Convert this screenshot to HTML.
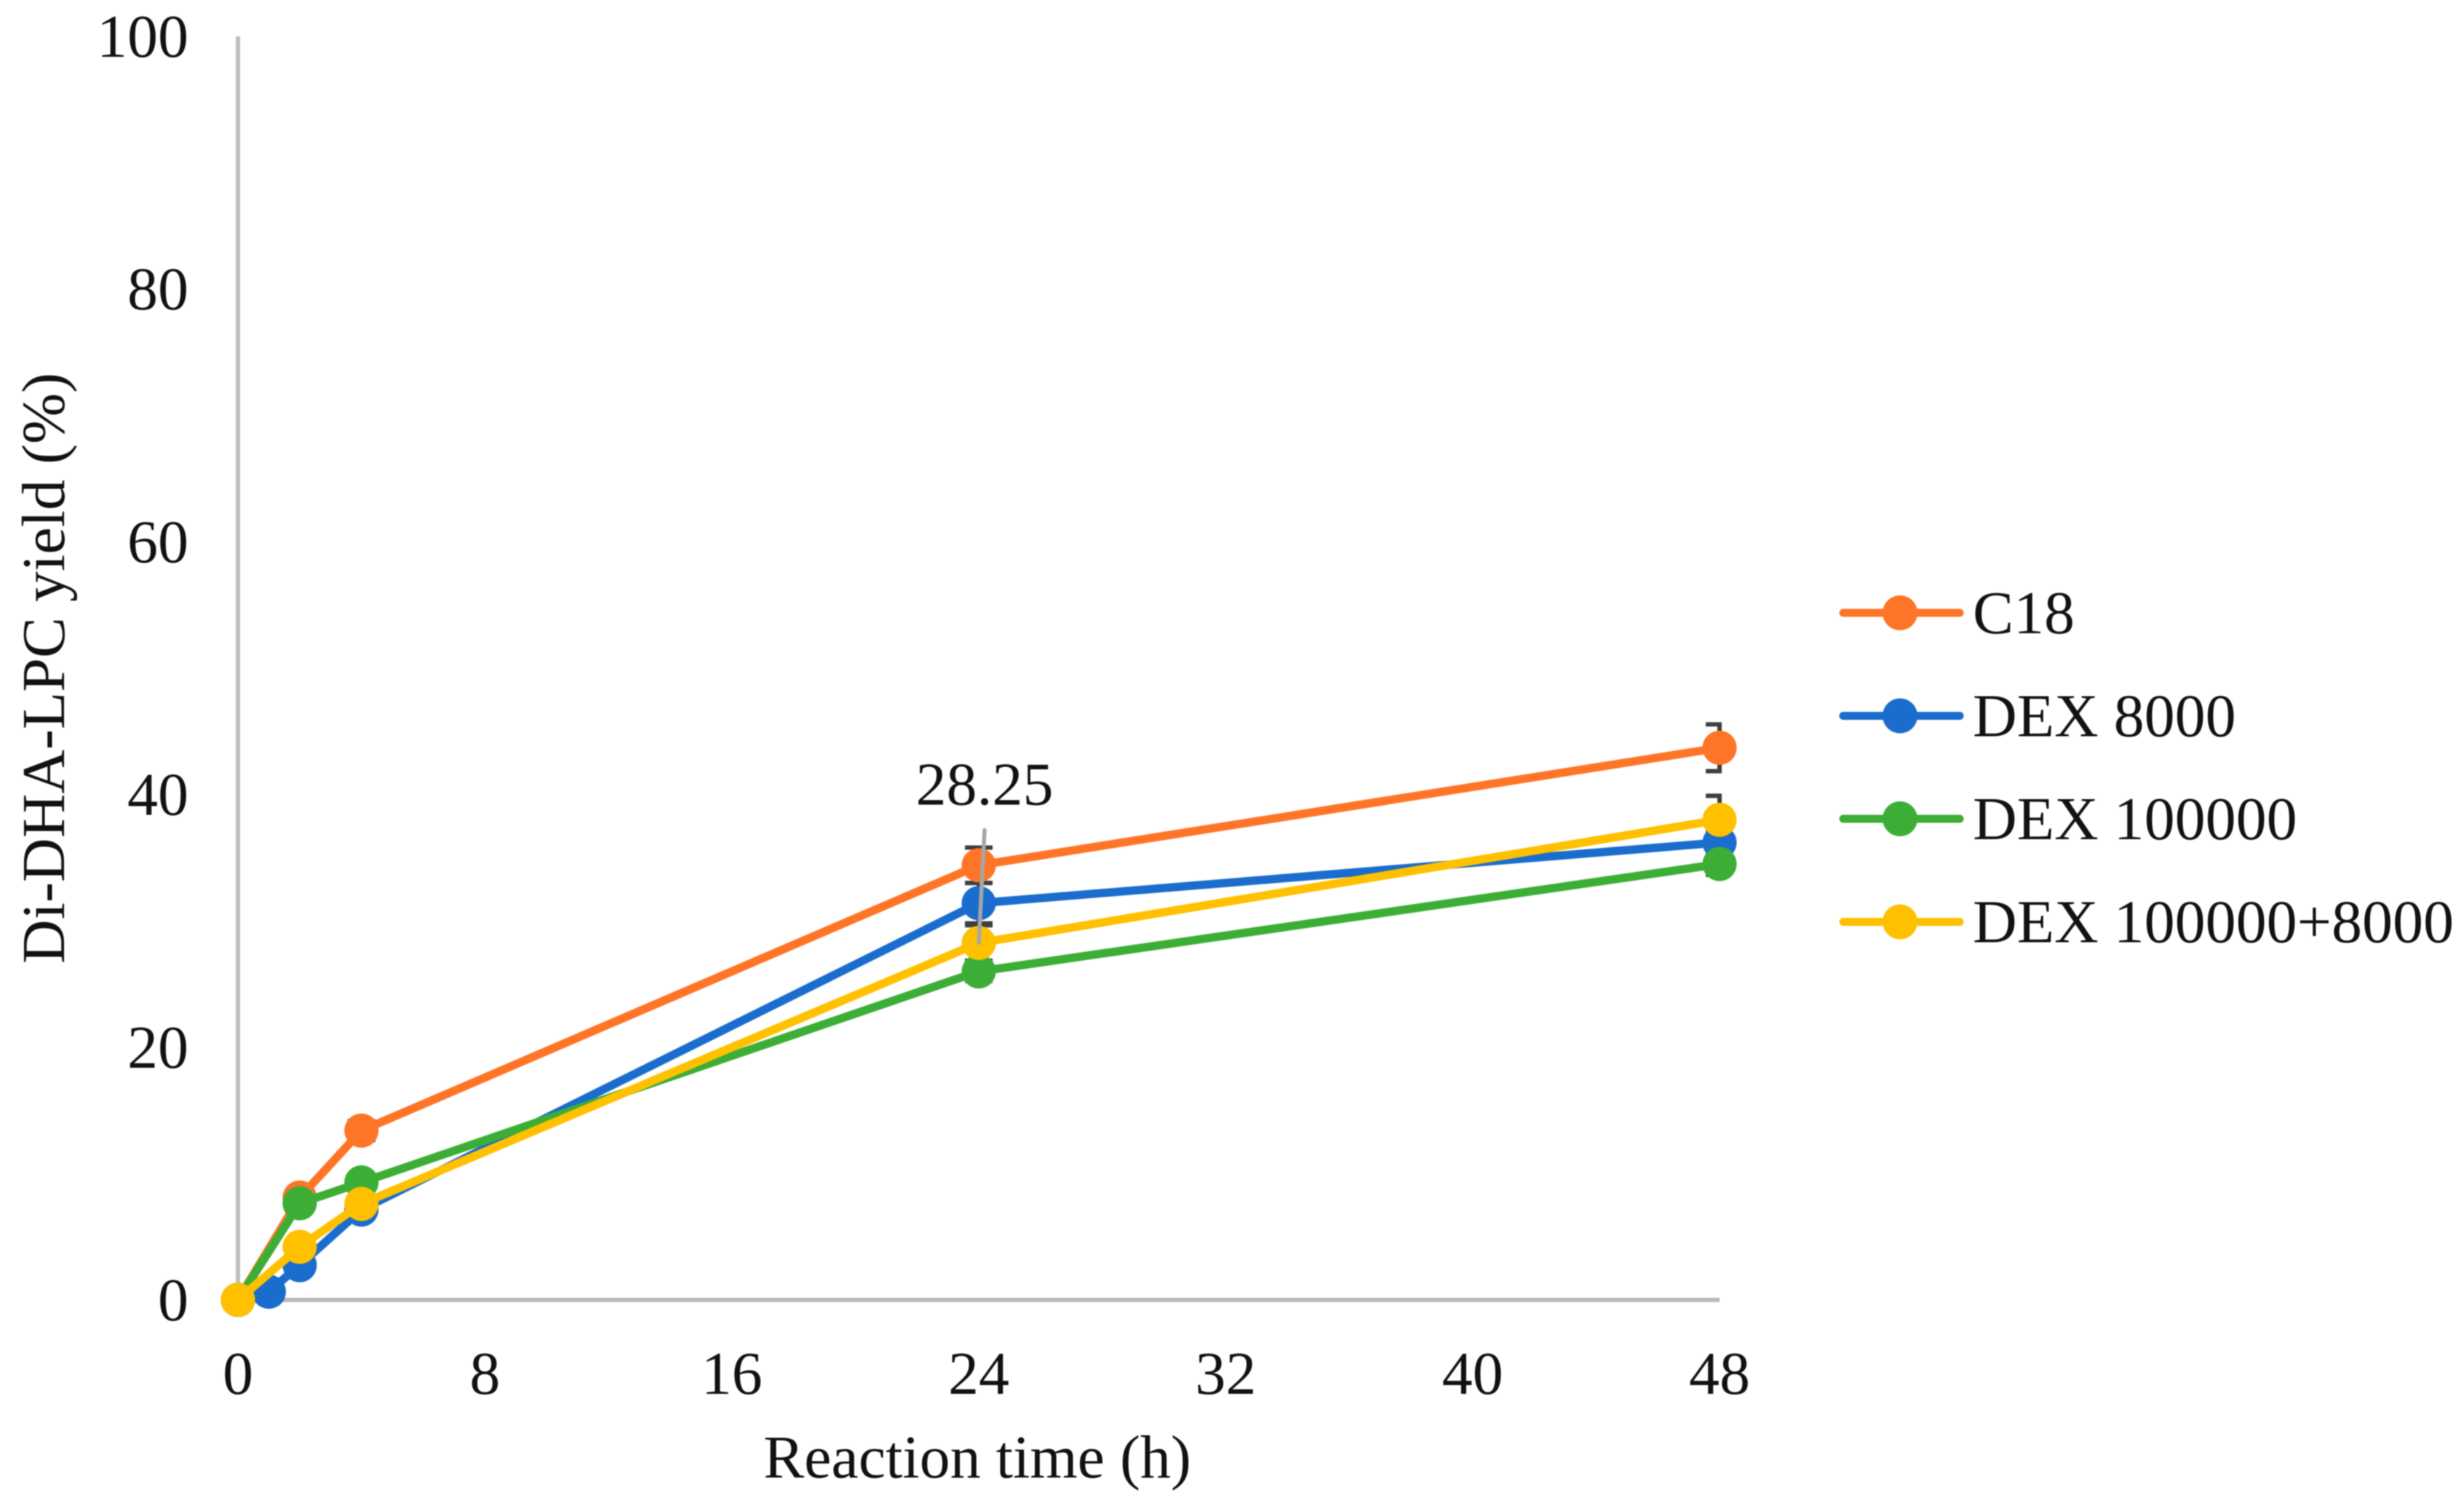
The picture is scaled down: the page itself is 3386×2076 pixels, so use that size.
<!DOCTYPE html>
<html lang="en">
<head>
<meta charset="utf-8">
<title>Di-DHA-LPC yield over reaction time</title>
<style>
  html, body { margin: 0; padding: 0; background: #fff; }
  #chart { display: block; width: 3386px; height: 2076px; filter: blur(0.9px); }
  text { font-family: "Liberation Serif", "Times New Roman", serif; font-size: 84px; fill: #111; }
</style>
</head>
<body>
<svg id="chart" xmlns="http://www.w3.org/2000/svg" width="3386" height="2076" viewBox="0 0 3386 2076">
  <rect width="3386" height="2076" fill="#fff"/>
  <g id="axes"></g>
  <g id="errors"></g>
  <g id="series"></g>
  <g id="annot"></g>
  <g id="legend"></g>
  <text x="1343" y="2030" text-anchor="middle">Reaction time (h)</text>
  <text transform="translate(88 918) rotate(-90)" text-anchor="middle">Di-DHA-LPC yield (%)</text>
</svg>
<script>
const hours = [0, 1, 2, 4, 24, 48];
const seriesNames = ["C18", "DEX 8000", "DEX 100000", "DEX 100000+8000"];
const seriesColors = ["#ff7527", "#1a6dcc", "#3cae35", "#ffc000"];
const c18Values = [0, null, 8.1, 13.4, 34.4, 43.7];
const dex8000Values = [0, 0.65, 2.75, 7.15, 31.4, 36.2];
const dex100000Values = [0, null, 7.65, 9.3, 26.0, 34.5];
const dexMixValues = [0, null, 4.2, 7.6, 28.25, 38.0];
const c18Errors = [0, null, 0, 0.75, 1.4, 1.85];
const dex8000Errors = [0, 0, 0, 0, 1.6, 0.8];
const dex100000Errors = [0, null, 0, 0, 0.75, 0.85];
const dexMixErrors = [0, null, 0, 0, 1.4, 1.9];
const xTicks = [0, 8, 16, 24, 32, 40, 48];
const yTicks = [0, 20, 40, 60, 80, 100];
const labelledSeriesIndex = 3;
const labelledHour = 24;

const allValues = [c18Values, dex8000Values, dex100000Values, dexMixValues];
const allErrors = [c18Errors, dex8000Errors, dex100000Errors, dexMixErrors];
const NS = "http://www.w3.org/2000/svg";
const X0 = 327, X1 = 2363, Y0 = 1786, Y1 = 50;
const xDomainMax = 48, yDomainMax = 100;
const xScale = function (v) { return X0 + (v / xDomainMax) * (X1 - X0); };
const yScale = function (v) { return Y0 - (v / yDomainMax) * (Y0 - Y1); };

function mk(parent, tag, attrs) {
  const el = document.createElementNS(NS, tag);
  for (const k in attrs) { el.setAttribute(k, attrs[k]); }
  parent.appendChild(el);
  return el;
}
function slug(s) { return s.toLowerCase().replace(/[^a-z0-9]+/g, "-"); }

/* axes */
const axesG = document.getElementById("axes");
const yAxis = mk(axesG, "line", { x1: X0, y1: Y1, x2: X0, y2: Y0, stroke: "#bfbfbf", "stroke-width": 6 });


const xAxis = mk(axesG, "line", { x1: X0, y1: Y0, x2: X1, y2: Y0, stroke: "#bababa", "stroke-width": 6 });



yTicks.forEach(function (t) {
  const label = mk(axesG, "text", { x: 259, y: yScale(t) + 28, "text-anchor": "end" });
  label.textContent = String(t);
  
  
});
xTicks.forEach(function (t) {
  const label = mk(axesG, "text", { x: xScale(t), y: 1915, "text-anchor": "middle" });
  label.textContent = String(t);
  
  
});

/* error bars */
const errG = document.getElementById("errors");
allErrors.forEach(function (errs, s) {
  errs.forEach(function (e, i) {
    if (!e || allValues[s][i] === null) { return; }
    const px = xScale(hours[i]);
    const top = yScale(allValues[s][i] + e);
    const bot = yScale(allValues[s][i] - e);
    const right = Math.min(px + 19, X1 + 3);
    const bar = mk(errG, "path", {
      d: "M" + (px - 19) + " " + top + "H" + right + "M" + (px - 19) + " " + bot + "H" + right + "M" + px + " " + top + "V" + bot,
      fill: "none", stroke: "#3f3f3f", "stroke-width": 6
    });
    
    
  });
});

/* series lines and markers */
const seriesG = document.getElementById("series");
allValues.forEach(function (vals, s) {
  const group = mk(seriesG, "g", {});
  
  
  const pts = [];
  vals.forEach(function (v, i) {
    if (v !== null) { pts.push(xScale(hours[i]) + "," + yScale(v)); }
  });
  const line = mk(group, "polyline", {
    points: pts.join(" "), fill: "none", stroke: seriesColors[s],
    "stroke-width": 11.5, "stroke-linejoin": "round", "stroke-linecap": "round"
  });
  
  
  vals.forEach(function (v, i) {
    if (v === null) { return; }
    const dot = mk(group, "circle", { cx: xScale(hours[i]), cy: yScale(v), r: 23.5, fill: seriesColors[s] });
    
    
  });
});

/* data label with leader line */
const annotG = document.getElementById("annot");
const labelValue = allValues[labelledSeriesIndex][hours.indexOf(labelledHour)];
const labelX = xScale(labelledHour);
const labelY = yScale(labelValue);
const leader = mk(annotG, "line", {
  x1: labelX + 8, y1: labelY - 155, x2: labelX, y2: labelY,
  stroke: "#a6a6a6", "stroke-width": 5.5, "stroke-linecap": "round"
});


const dataLabel = mk(annotG, "text", { x: labelX + 8, y: labelY - 190, "text-anchor": "middle" });
dataLabel.textContent = labelValue.toFixed(2);



/* legend */
const legendG = document.getElementById("legend");
seriesNames.forEach(function (name, s) {
  const rowY = 842 + s * 141.5;
  const row = mk(legendG, "g", {});
  
  
  mk(row, "line", {
    x1: 2533, y1: rowY, x2: 2693, y2: rowY, stroke: seriesColors[s],
    "stroke-width": 11, "stroke-linecap": "round"
  });
  mk(row, "circle", { cx: 2611, cy: rowY, r: 24, fill: seriesColors[s] });
  const label = mk(row, "text", { x: 2711, y: rowY + 28 });
  label.textContent = name;
});
</script>
</body>
</html>
